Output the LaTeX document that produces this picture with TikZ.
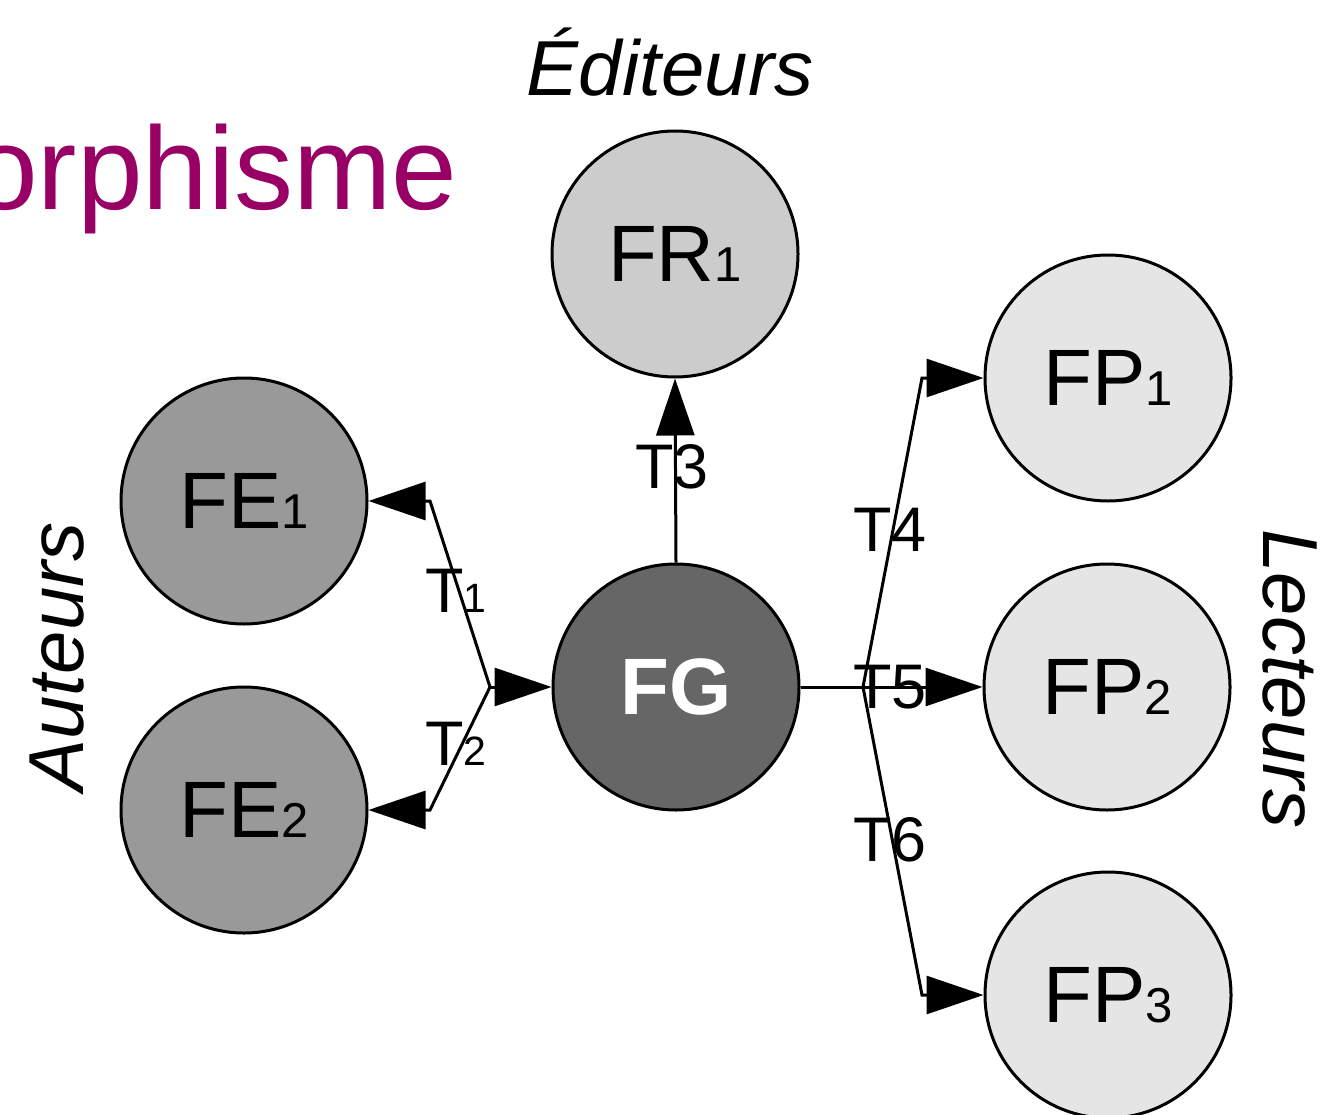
\documentclass[tikz,border=0pt]{standalone}
\usepackage{fontspec}
\setmainfont{Liberation Sans}
\usetikzlibrary{arrows.meta}
\definecolor{purp}{HTML}{990066}
\definecolor{feC}{HTML}{999999}
\definecolor{fgC}{HTML}{666666}
\definecolor{frC}{HTML}{CCCCCC}
\definecolor{fpC}{HTML}{E5E5E5}
\newcommand\smdig[1]{{\fontsize{49}{49}\selectfont #1}}
\newcommand\smlab[1]{{\fontsize{41}{41}\selectfont #1}}
\tikzset{
  circ/.style={circle, draw=black, line width=3pt, minimum size=246pt, inner sep=0pt,
    font=\fontsize{80}{80}\selectfont},
  conn/.style={line width=3pt, line join=miter},
  arr/.style={conn, -{Triangle[length=57pt,width=38pt]}},
  lbl/.style={inner sep=0pt, font=\fontsize{63}{63}\selectfont},
  side/.style={inner sep=0pt, font=\fontsize{78}{78}\selectfont\itshape},
}
\begin{document}
\begin{tikzpicture}[x=1pt,y=-1pt]
\useasboundingbox (0,0) rectangle (1324,1115);
% title fragment (cut at the left edge, as in the reference)
\node[anchor=base west, inner sep=0pt, text=purp, font=\fontsize{118}{118}\selectfont] (title) at (-28,210) {orphisme};
% nodes
\node[circ, fill=frC] (fr1) at (675,254) {FR\smdig{1}};
\node[circ, fill=feC] (fe1) at (244,501) {FE\smdig{1}};
\node[circ, fill=feC] (fe2) at (244,810) {FE\smdig{2}};
\node[circ, fill=fgC, text=white, font=\fontsize{80}{80}\selectfont\bfseries] (fg) at (676,687) {FG};
\node[circ, fill=fpC] (fp1) at (1108,378) {FP\smdig{1}};
\node[circ, fill=fpC] (fp2) at (1107,687) {FP\smdig{2}};
\node[circ, fill=fpC] (fp3) at (1108,995) {FP\smdig{3}};
% side labels
\node[side] (ed) at (670,62) {Éditeurs};
\node[side, rotate=90] (au) at (57,657) {Auteurs};
\node[side, rotate=-90] (le) at (1290,679) {Lecteurs};
% connector labels
\node[lbl] (t1) at (456,591) {T\smlab{1}};
\node[lbl] (t2) at (456,744) {T\smlab{2}};
\node[lbl] (t3) at (672,467) {T3};
\node[lbl] (t4) at (890,530) {T4};
\node[lbl] (t5) at (890,687) {T5};
\node[lbl] (t6) at (890,840) {T6};
% junction coordinates
\coordinate (jl) at (490,687);
\coordinate (l1) at (430,501);
\coordinate (l2) at (430,810);
\coordinate (jr) at (863,687);
\coordinate (r1) at (922,378);
\coordinate (r3) at (922,995);
% connectors
\draw[arr] (jl) -- (l1) -- (fe1.east);
\draw[arr] (jl) -- (l2) -- (fe2.east);
\draw[arr] (jl) -- (fg.west);
\draw[arr] (fg.north) -- (fr1.south);
\draw[arr] (fg.east) -- (fp2.west);
\draw[arr] (jr) -- (r1) -- (fp1.west);
\draw[arr] (jr) -- (r3) -- (fp3.west);
\end{tikzpicture}
\end{document}
